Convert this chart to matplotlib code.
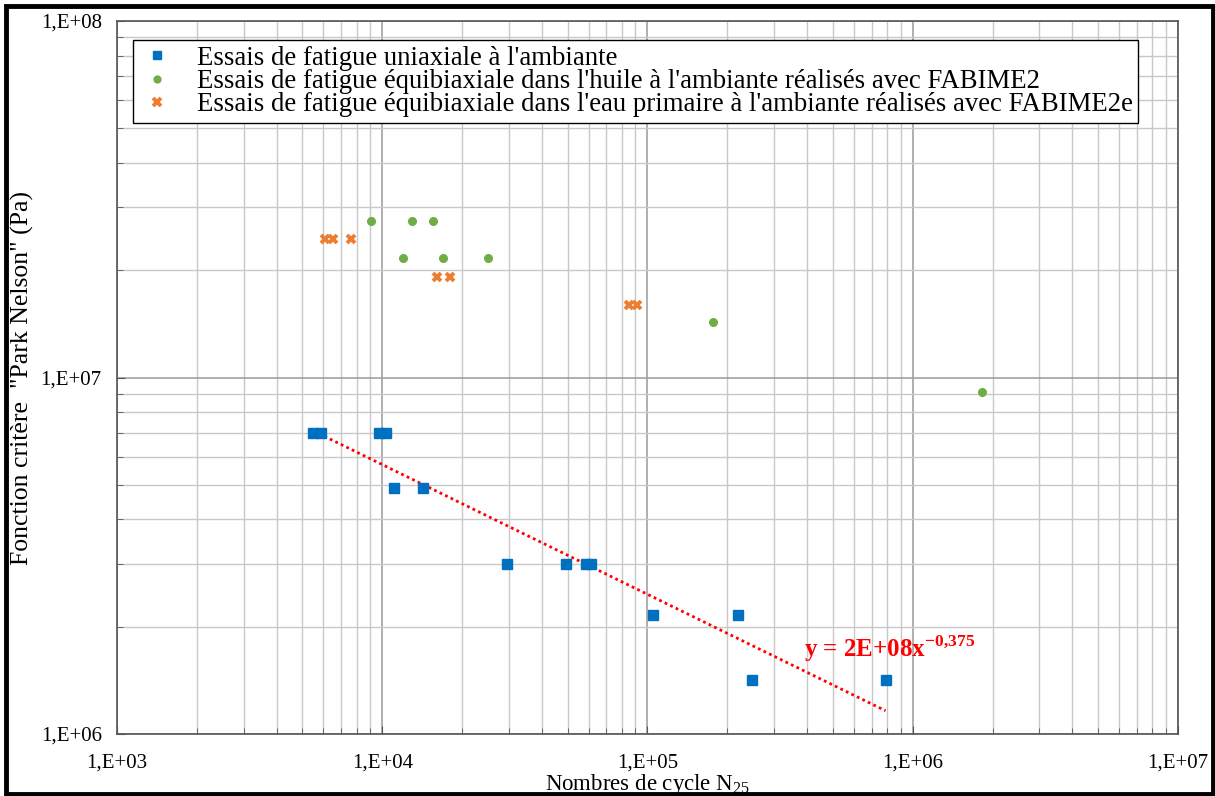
import numpy as np
import matplotlib
matplotlib.use("Agg")
import matplotlib.pyplot as plt
from matplotlib.ticker import LogLocator, FuncFormatter, NullFormatter
from matplotlib.patches import Rectangle

plt.rcParams['font.family'] = ['Liberation Serif', 'DejaVu Serif']
plt.rcParams['mathtext.fontset'] = 'custom'
plt.rcParams['mathtext.rm'] = 'Liberation Serif'
plt.rcParams['mathtext.bf'] = 'Liberation Serif:bold'

# Donnees
uni_n = [5500, 5900, 9700, 10300, 11100, 14200, 29600, 49400, 58500, 61500,
         105000, 220000, 247000, 790000]
uni_pn = [7.0e6, 7.0e6, 7.0e6, 7.0e6, 4.9e6, 4.9e6, 3.0e6, 3.0e6, 3.0e6, 3.0e6,
          2.15e6, 2.15e6, 1.42e6, 1.42e6]

huile_n = [9060, 13000, 15500, 12000, 17000, 25100, 177000, 1830000]
huile_pn = [2.75e7, 2.75e7, 2.75e7, 2.17e7, 2.17e7, 2.17e7, 1.43e7, 9.1e6]

eau_n = [6100, 6550, 7650, 16100, 18000, 85000, 91000]
eau_pn = [2.44e7, 2.44e7, 2.44e7, 1.92e7, 1.92e7, 1.60e7, 1.60e7]

labels = ["Essais de fatigue uniaxiale à l'ambiante",
          "Essais de fatigue équibiaxiale dans l'huile à l'ambiante réalisés avec FABIME2",
          "Essais de fatigue équibiaxiale dans l'eau primaire à l'ambiante réalisés avec FABIME2e"]
equation = "y = 2E+08x$^{\\mathbf{-0{,}375}}$"

fig = plt.figure(figsize=(12.15, 7.96), dpi=100)
ax = fig.add_axes([0.0963, 0.0779, 0.8732, 0.8957])

# Cadre autour de la figure
fig.patches.append(Rectangle((0.005, 0.003), 0.993, 0.989, transform=fig.transFigure,
                             fill=False, edgecolor='black', linewidth=3.5))

ax.plot(uni_n, uni_pn, 's', color='#0070C0', markersize=6.5, label=labels[0], zorder=3)
ax.plot(huile_n, huile_pn, 'o', color='#70AD47', markersize=5.5, label=labels[1], zorder=3)
ax.plot(eau_n, eau_pn, 'x', color='#ED7D31', markersize=6, markeredgewidth=2.8,
        label=labels[2], zorder=3)

# Courbe de tendance puissance
a, b = np.polyfit(np.log10(uni_n), np.log10(uni_pn), 1)
xt = np.logspace(np.log10(min(uni_n)), np.log10(max(uni_n)), 100)
ax.plot(xt, 10 ** b * xt ** a, linestyle=(0, (1, 1.2)), color='#FF0000', linewidth=2, zorder=2)
ax.text(3.9e5, 1.73e6, equation, color='#FF0000', fontsize=18, fontweight='bold',
        va='center', ha='left')

ax.set_xscale('log')
ax.set_yscale('log')
ax.set_xlim(1e3, 1e7)
ax.set_ylim(1e6, 1e8)

fmt = FuncFormatter(lambda v, p: "1,E+%02d" % round(np.log10(v)))
for axis in (ax.xaxis, ax.yaxis):
    axis.set_major_locator(LogLocator(base=10))
    axis.set_minor_locator(LogLocator(base=10, subs=np.arange(2, 10)))
    axis.set_major_formatter(fmt)
    axis.set_minor_formatter(NullFormatter())

ax.grid(True, which='major', color='#9a9a9a', linewidth=1.1)
ax.grid(True, which='minor', color='#c8c8c8', linewidth=1.0)
ax.tick_params(which='both', direction='in', labelsize=15, color='#555555')
ax.tick_params(which='major', length=6, pad=14)
ax.tick_params(axis='y', which='major', pad=11)
ax.tick_params(which='minor', length=4)
for s in ax.spines.values():
    s.set_color('#555555')
    s.set_linewidth(1.2)

ax.set_xlabel("Nombres de cycle N$_{25}$", fontsize=16.5, labelpad=0)
ax.set_ylabel('Fonction critère  "Park Nelson" (Pa)', fontsize=18.5)
ax.yaxis.set_label_coords(-0.078, 0.5)

leg = ax.legend(loc='upper left', bbox_to_anchor=(0.015, 0.973), fontsize=19.3,
                frameon=True, fancybox=False, edgecolor='black', framealpha=1,
                handlelength=1.4, handletextpad=0.8, borderpad=0.2, labelspacing=-0.06,
                borderaxespad=0, markerscale=0.9)
leg.get_frame().set_linewidth(1.0)

fig.savefig("out.png", dpi=100)
